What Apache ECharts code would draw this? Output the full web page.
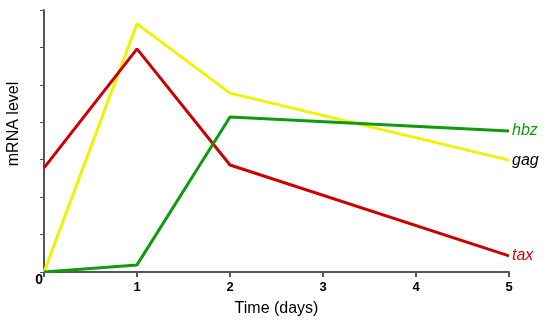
<!DOCTYPE html>
<html>
<head>
<meta charset="utf-8">
<script src="https://cdn.jsdelivr.net/npm/echarts@6/dist/echarts.min.js"></script>
<style>html,body{margin:0;padding:0;background:#fff;}#c{width:550px;height:326px;}</style>
</head>
<body>
<div id="c"></div>
<script>
var days = [0, 1, 2, 5];
var xTicks = [0, 1, 2, 3, 4, 5];
var gagValues = [0, 6.63, 4.78, 2.99];
var taxValues = [2.78, 5.96, 2.86, 0.43];
var hbzValues = [0, 0.19, 4.14, 3.77];
var seriesNames = ['gag', 'tax', 'hbz'];

function pairs(vals) { return days.map(function (d, i) { return [d, vals[i]]; }); }

var font = 'Arial, "Liberation Sans", sans-serif';
var chart = echarts.init(document.getElementById('c'), null, {renderer: 'canvas'});

function lineSeries(name, vals, color, labelColor) {
  return {
    name: name, type: 'line', data: pairs(vals), symbol: 'none', z: 3,
    lineStyle: {color: color, width: 3},
    endLabel: {show: true, formatter: name, color: labelColor, fontStyle: 'italic',
      fontSize: 16, fontFamily: font, distance: 3}
  };
}

chart.setOption({
  animation: false,
  grid: {left: 44, right: 41, top: 10, bottom: 54, containLabel: false, outerBoundsMode: 'none'},
  xAxis: {
    type: 'value', min: 0, max: 5, interval: 1,
    name: 'Time (days)', nameLocation: 'middle', nameGap: 29,
    nameTextStyle: {color: '#000', fontSize: 16, fontFamily: font},
    axisLine: {lineStyle: {color: '#555', width: 2}},
    axisTick: {show: true, length: 5, lineStyle: {color: '#555', width: 2}},
    axisLabel: {color: '#000', fontSize: 13, fontWeight: 'bold', fontFamily: font, margin: 9,
      formatter: function (v) { return v === 0 ? '' : String(v); }},
    splitLine: {show: false}
  },
  yAxis: {
    type: 'value', min: 0, max: 7, interval: 1,
    name: 'mRNA level', nameLocation: 'middle', nameGap: 22,
    nameTextStyle: {color: '#000', fontSize: 16, fontFamily: font, padding: [0, 0, 0, 34]},
    axisLine: {show: true, lineStyle: {color: '#555', width: 2}},
    axisTick: {show: true, length: 4, lineStyle: {color: '#555', width: 1}},
    axisLabel: {color: '#000', fontSize: 14, fontWeight: 'bold', fontFamily: font, margin: 1,
      verticalAlign: 'top', padding: [1, 0, 0, 0],
      formatter: function (v) { return v === 0 ? '0' : ''; }},
    splitLine: {show: false}
  },
  series: [
    lineSeries(seriesNames[0], gagValues, '#f2f200', '#000'),
    lineSeries(seriesNames[1], taxValues, '#cc0000', '#e00000'),
    lineSeries(seriesNames[2], hbzValues, '#109a10', '#109a10')
  ]
});
</script>
</body>
</html>
